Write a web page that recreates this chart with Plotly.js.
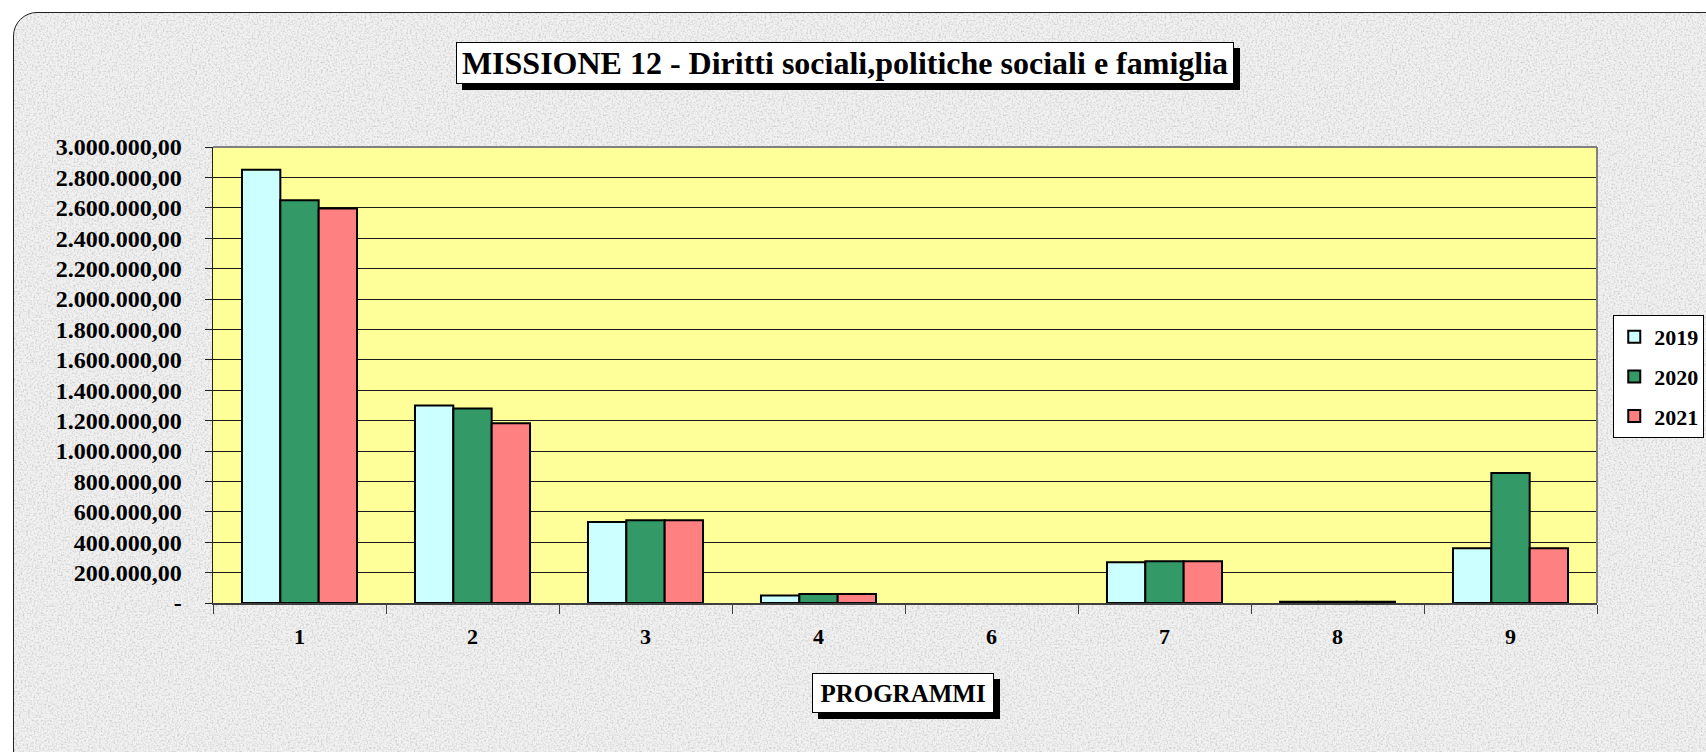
<!DOCTYPE html>
<html>
<head>
<meta charset="utf-8">
<script src="https://cdn.plot.ly/plotly-3.0.1.min.js"></script>
<style>
  html, body { margin: 0; padding: 0; background: #ffffff; width: 1706px; height: 752px; overflow: hidden; }
  #frame {
    position: absolute; left: 13px; top: 12px; width: 1730px; height: 770px;
    border: 1.5px solid #222; border-radius: 24px; box-sizing: border-box;
    background-color: #eeeeee;
    background-image: url("data:image/svg+xml;utf8,<svg xmlns='http://www.w3.org/2000/svg' width='400' height='400'><filter id='n'><feTurbulence type='fractalNoise' baseFrequency='0.55' numOctaves='3' seed='4'/><feColorMatrix values='0 0 0 0 0.5  0 0 0 0 0.5  0 0 0 0 0.5  0 0 0 1.6 -0.7'/></filter><rect width='100%' height='100%' fill='%23f1f1f1'/><rect width='100%' height='100%' filter='url(%23n)'/></svg>");
  }
  #chart { position: absolute; left: 0; top: 0; width: 1706px; height: 752px; }
</style>
</head>
<body>
<div id="frame"></div>
<div id="chart"></div>
<script>
// ---- data ----
var categories = ["1", "2", "3", "4", "6", "7", "8", "9"];
var seriesNames = ["2019", "2020", "2021"];
var values2019 = [2850000, 1300000, 533000, 50000, 0, 268000, 8000, 360000];
var values2020 = [2650000, 1280000, 545000, 60000, 0, 275000, 9000, 856000];
var values2021 = [2595000, 1182000, 545000, 60000, 0, 275000, 9000, 360000];
var yTickVals = [0, 200000, 400000, 600000, 800000, 1000000, 1200000, 1400000, 1600000,
                 1800000, 2000000, 2200000, 2400000, 2600000, 2800000, 3000000];
var yTickText = ["-", "200.000,00", "400.000,00", "600.000,00", "800.000,00", "1.000.000,00",
                 "1.200.000,00", "1.400.000,00", "1.600.000,00", "1.800.000,00", "2.000.000,00",
                 "2.200.000,00", "2.400.000,00", "2.600.000,00", "2.800.000,00", "3.000.000,00"];
var titleText = "MISSIONE 12 - Diritti sociali,politiche sociali e famiglia";
var xTitleText = "PROGRAMMI";

// ---- styles ----
var colors = ["#CCFFFF", "#339966", "#FF8080"];
var allValues = [values2019, values2020, values2021];
var serif = "Liberation Serif, Times New Roman, serif";

var traces = allValues.map(function (vals, i) {
  return {
    type: "bar",
    name: seriesNames[i],
    x: categories,
    y: vals,
    legendgroup: "g" + i,
    marker: {
      color: colors[i],
      line: { color: "#000000", width: vals.map(function (v) { return v === 0 ? 0 : 2; }) }
    },
    hoverinfo: "skip"
  };
});

function boxedAnnotation(text, x, y, size, w, h, shadow) {
  return {
    xref: "paper", yref: "paper", x: x, y: y,
    xanchor: "center", yanchor: "middle",
    width: w, height: h,
    text: shadow ? " " : "<b>" + text + "</b>", showarrow: false,
    font: { family: serif, size: size, color: "#000000" },
    bgcolor: shadow ? "#000000" : "#ffffff",
    bordercolor: "#000000", borderwidth: 1, borderpad: 0,
    xshift: shadow ? 6 : 0, yshift: shadow ? -6 : 0
  };
}

var layout = {
  width: 1706, height: 752,
  margin: { l: 213, r: 109, t: 147, b: 149, autoexpand: false },
  paper_bgcolor: "rgba(0,0,0,0)",
  plot_bgcolor: "#FFFF99",
  barmode: "group",
  bargap: 0.335,
  bargroupgap: 0,
  showlegend: true,
  legend: {
    x: 1.0775, y: 0.6316, xanchor: "right", yanchor: "top",
    bgcolor: "#ffffff", bordercolor: "#000000", borderwidth: 1,
    font: { family: serif, size: 22, color: "#000000", weight: "bold" },
    tracegroupgap: 8, traceorder: "grouped"
  },
  xaxis: {
    type: "category",
    tickson: "boundaries",
    ticks: "outside", ticklen: 9, tickcolor: "#404040", tickwidth: 1,
    showline: true, linecolor: "#404040", linewidth: 1.5,
    showgrid: false, zeroline: false,
    ticklabelstandoff: 13,
    tickfont: { family: serif, size: 22, color: "#000000", weight: "bold" }
  },
  yaxis: {
    range: [0, 3000000],
    tickmode: "array", tickvals: yTickVals, ticktext: yTickText,
    ticks: "outside", ticklen: 7, tickcolor: "#202020", tickwidth: 1,
    showline: true, linecolor: "#202020", linewidth: 1.5,
    showgrid: true, gridcolor: "#1a1a1a", gridwidth: 1,
    zeroline: false,
    ticklabelstandoff: 18,
    tickfont: { family: serif, size: 24, color: "#000000", weight: "bold" }
  },
  shapes: [
    { type: "line", xref: "paper", yref: "paper", x0: 0, x1: 1, y0: 1, y1: 1,
      line: { color: "#808080", width: 2 }, layer: "above" },
    { type: "line", xref: "paper", yref: "paper", x0: 1, x1: 1, y0: 0, y1: 1,
      line: { color: "#808080", width: 2 }, layer: "above" }
  ],
  annotations: [
    boxedAnnotation(titleText, 0.4566, 1.185, 32, 776, 40, true),
    boxedAnnotation(titleText, 0.4566, 1.185, 32, 776, 40, false),
    boxedAnnotation(xTitleText, 0.4982, -0.197, 25, 180, 38, true),
    boxedAnnotation(xTitleText, 0.4982, -0.197, 25, 180, 38, false)
  ]
};

Plotly.newPlot("chart", traces, layout, { staticPlot: true, displayModeBar: false });
</script>
</body>
</html>
